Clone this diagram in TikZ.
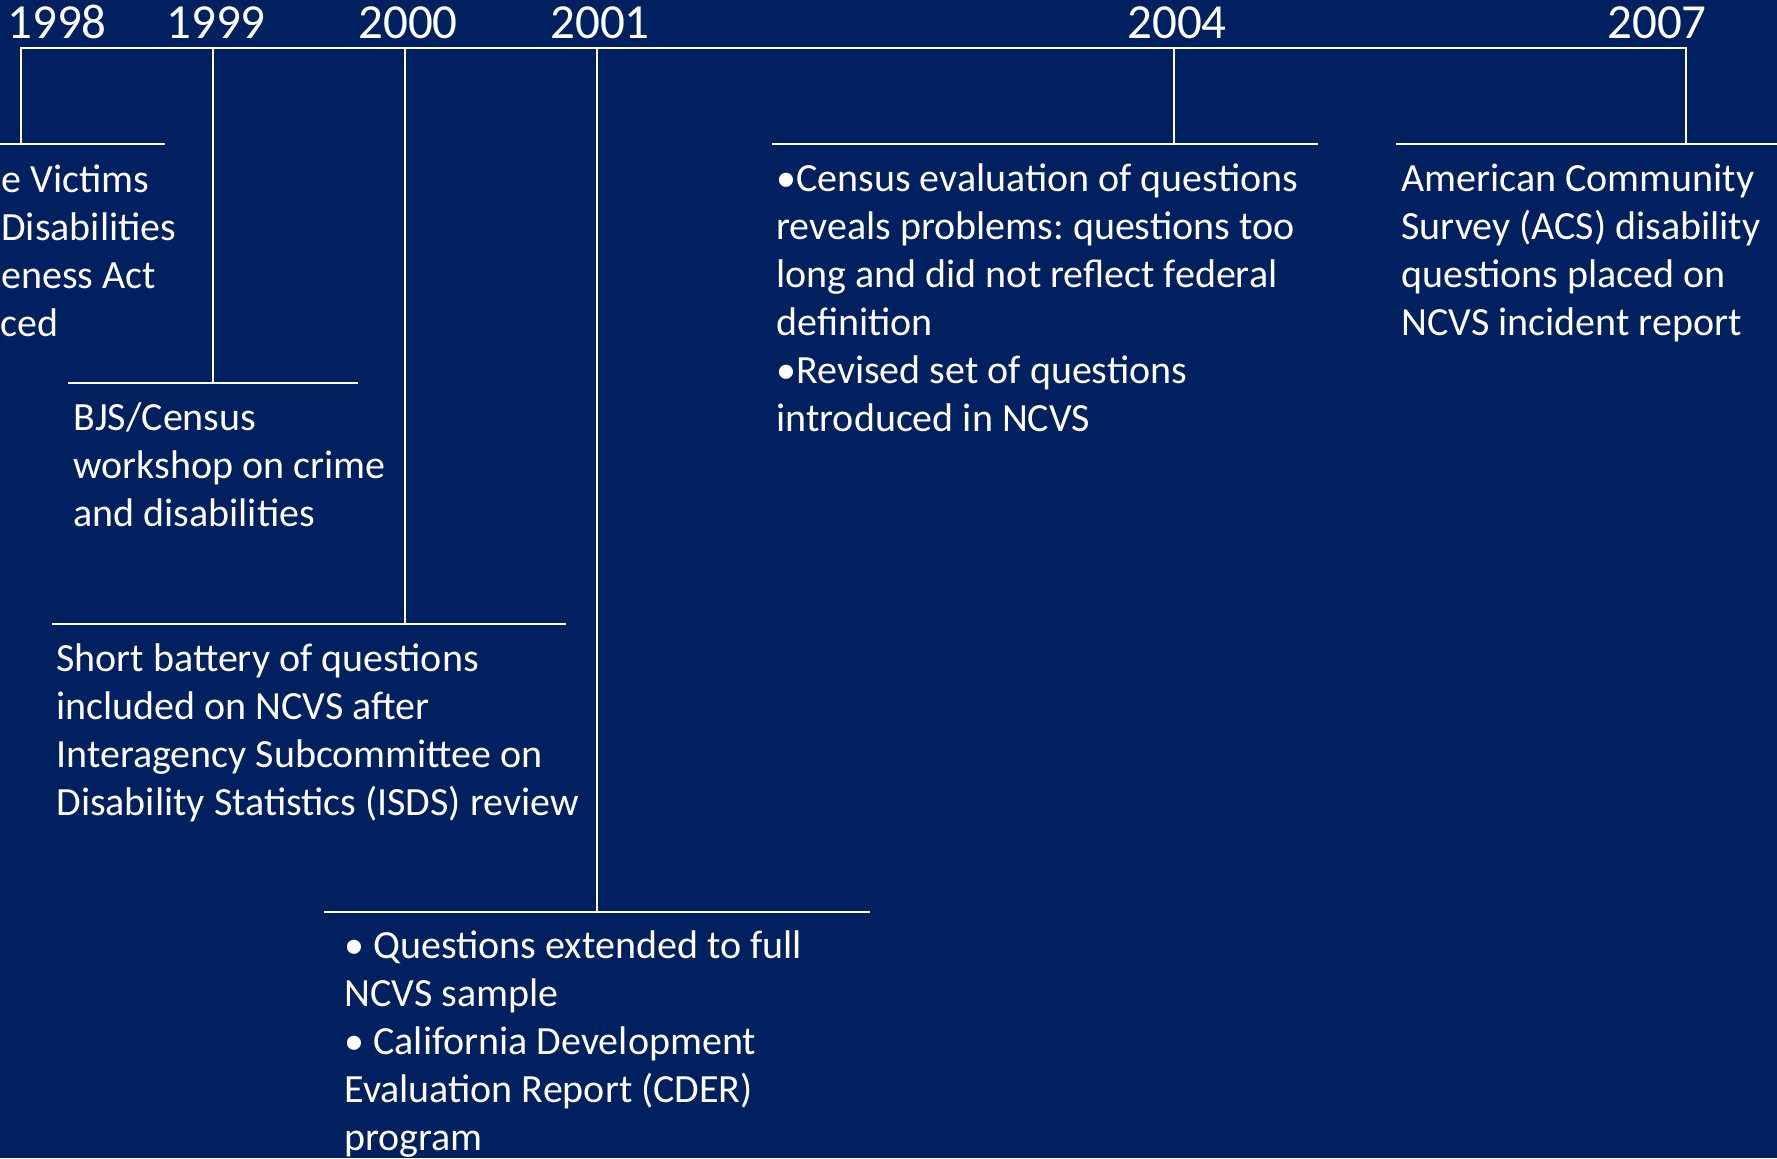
\documentclass[tikz,border=0pt]{standalone}
\usepackage{fontspec}
\setmainfont{Carlito}
\frenchspacing
\definecolor{navy}{RGB}{0,32,96}
\newcommand{\bodyfont}{\fontsize{20}{24}\selectfont}
\newcommand{\yearfont}{\fontsize{24.5}{29}\selectfont}
\newcommand{\lns}[1]{\begin{tabular}[t]{@{}l@{}}#1\end{tabular}}
\begin{document}
\begin{tikzpicture}[x=0.5pt,y=-0.5pt,
  tl/.style={draw=white,line width=1.375pt,line cap=rect},
  year/.style={text=white,font=\yearfont,anchor=base,inner sep=0pt},
  body/.style={text=white,font=\bodyfont,anchor=base west,inner sep=0pt}]
\fill[navy] (0,0) rectangle (1777,1158);
\useasboundingbox (0,0) rectangle (1777,1158);
\begin{scope}
\clip (0,0) rectangle (1777,1158);
% timeline points
\coordinate (t98) at (21,48);
\coordinate (t99) at (213,48);
\coordinate (t00) at (405,48);
\coordinate (t01) at (597,48);
\coordinate (t04) at (1174,48);
\coordinate (t07) at (1686,48);
\coordinate (b98) at (21,144);
\coordinate (b99) at (213,383);
\coordinate (b00) at (405,624);
\coordinate (b01) at (597,912);
\coordinate (b04) at (1174,144);
\coordinate (b07) at (1686,144);
\coordinate (l98) at (-5,144);   \coordinate (r98) at (164,144);
\coordinate (l99) at (69,383);   \coordinate (r99) at (357,383);
\coordinate (l00) at (53,624);   \coordinate (r00) at (565,624);
\coordinate (l01) at (325,912);  \coordinate (r01) at (869,912);
\coordinate (l04) at (773,144);  \coordinate (r04) at (1317,144);
\coordinate (l07) at (1397,144); \coordinate (r07) at (1785,144);
% main line and stems
\draw[tl] (t98) -- (t07);
\foreach \y in {98,99,00,01,04,07}{
  \draw[tl] (t\y) -- (b\y);
  \draw[tl] (l\y) -- (r\y);
}
% years
\node[year] (y98) at (57,38) {1998};
\node[year] (y99) at (216,38) {1999};
\node[year] (y00) at (408,38) {2000};
\node[year] (y01) at (600,38) {2001};
\node[year] (y04) at (1177,38) {2004};
\node[year] (y07) at (1657,38) {2007};
% 1998 (text cut at the left edge in the original)
\node[body] (e98a) at (1,192) {e Victims};
\node[body] (e98b) at (1,240) {Disabilities};
\node[body] (e98c) at (1,288) {eness Act};
\node[body] (e98d) at (0,336) {ced};
% events
\node[body] (e99) at (73,430) {\lns{BJS/Census\\workshop on crime\\and disabilities}};
\node[body] (e00) at (56,671) {\lns{Short battery of questions\\included on NCVS after\\Interagency Subcommittee on\\Disability Statistics (ISDS) review}};
\node[body] (e01) at (344,958) {\lns{\textbullet\ Questions extended to full\\NCVS sample\\\textbullet\ California Development\\Evaluation Report (CDER)\\program}};
\node[body] (e04) at (776,191) {\lns{\textbullet Census evaluation of questions\\reveals problems: questions too\\long and did not reflect federal\\definition\\\textbullet Revised set of questions\\introduced in NCVS}};
\node[body] (e07) at (1401,191) {\lns{American Community\\Survey (ACS) disability\\questions placed on\\NCVS incident report}};
\end{scope}
\end{tikzpicture}
\end{document}
